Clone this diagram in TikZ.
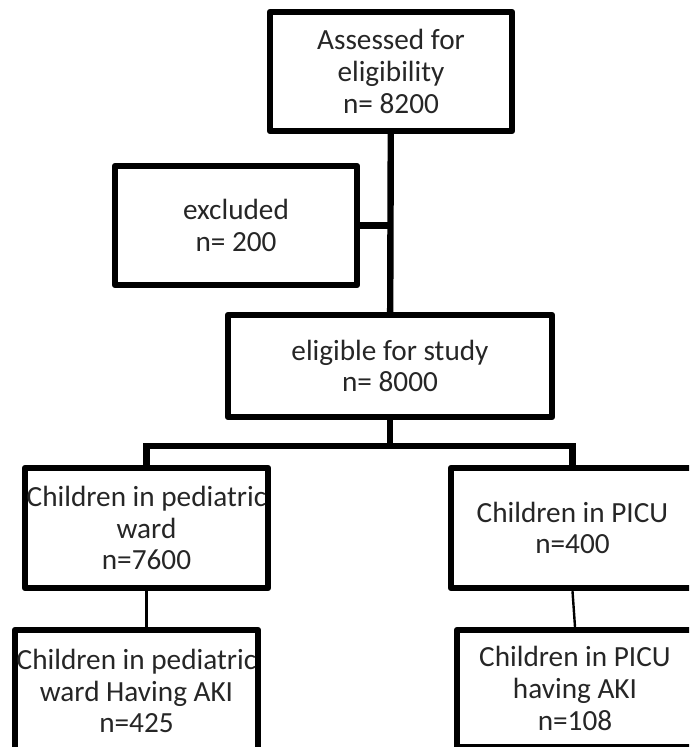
\documentclass[tikz,border=0pt]{standalone}
\usepackage{fontspec}
\setmainfont{Carlito}
\usetikzlibrary{positioning}

\begin{document}
\begin{tikzpicture}[
  flowbox/.style={draw, line width=0.16cm, line join=round, align=center, inner sep=0pt,
    text=black!85, font=\fontsize{20.8}{22.5}\selectfont},
  trunk/.style={line width=0.16cm},
  twig/.style={line width=0.06cm}
]

% Frame of the page (boxes at the bottom and right run off it)
\useasboundingbox (0,0) rectangle (17.225,-18.675);
\clip (0,0) rectangle (17.225,-18.675);

% Screening
\node[flowbox, minimum width=6.05cm, minimum height=2.975cm] (assess) at (9.775,-1.7875) {Assessed for\\eligibility\\n= 8200};
\node[flowbox, minimum width=6.05cm, minimum height=2.975cm] (excl) at (5.9,-5.6375) {excluded\\n= 200};
\node[flowbox, minimum width=8.1cm, minimum height=2.55cm] (elig) at (9.75,-9.15) {eligible for study\\n= 8000};

% Wards
\node[flowbox, minimum width=6.075cm, minimum height=3cm] (ward) at (3.6625,-13.2) {Children in pediatric\\ward\\n=7600};
\node[flowbox, minimum width=6.075cm, minimum height=3cm] (picu) at (14.3125,-13.2) {Children in PICU\\n=400};

% AKI
\node[flowbox, minimum width=6.075cm, minimum height=3.05cm] (wardaki) at (3.4125,-17.275) {Children in pediatric\\ward Having AKI\\n=425};
\node[flowbox, minimum width=5.9cm, minimum height=2.925cm] (picuaki) at (14.375,-17.2125) {Children in PICU\\having AKI\\n=108};

% Connectors
\draw[trunk] (assess) -- (elig);
\draw[trunk] (excl.east) -- (excl.east -| elig.north);
\draw[trunk] (elig.south) -- ++(0,-0.65) coordinate (fork);
\draw[trunk] (ward.north) |- (fork) -| (picu.north);

\draw[twig] (ward.south) -- (ward.south |- wardaki.north);
\draw[twig] (picu.south) -- (picuaki.north);

\end{tikzpicture}
\end{document}
